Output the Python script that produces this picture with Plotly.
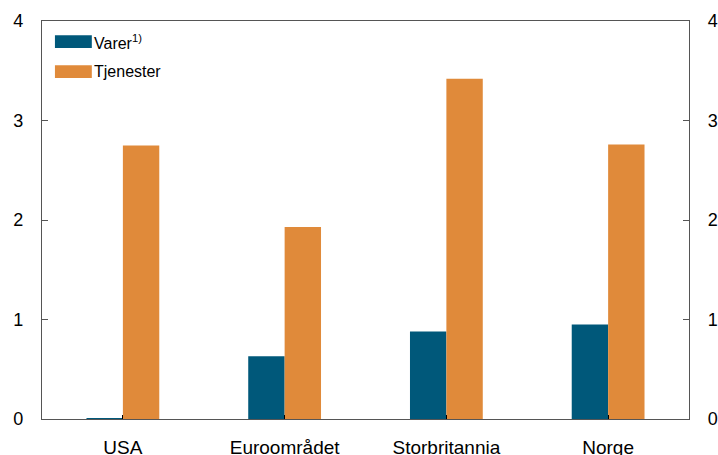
import plotly.graph_objects as go

categories = ["USA", "Euroområdet", "Storbritannia", "Norge"]
varer = [0.01, 0.63, 0.88, 0.95]
tjenester = [2.75, 1.93, 3.42, 2.76]
y_ticks = [0, 1, 2, 3, 4]

C_VARER = "#00587A"
C_TJEN = "#E08A3A"
AXIS = "#555555"
FONT = "Liberation Sans, Arial, sans-serif"

fig = go.Figure()
fig.add_trace(go.Bar(x=categories, y=varer, name="Varer", marker=dict(color=C_VARER, line=dict(width=0)), showlegend=False))
fig.add_trace(go.Bar(x=categories, y=tjenester, name="Tjenester", marker=dict(color=C_TJEN, line=dict(width=0)), showlegend=False))

fig.update_layout(
    width=718, height=455,
    margin=dict(l=42, r=29, t=21, b=36, autoexpand=False),
    paper_bgcolor="white", plot_bgcolor="white",
    barmode="group", bargap=0.55, bargroupgap=0,
    font=dict(family=FONT, size=18, color="black"),
    xaxis=dict(
        showline=True, linecolor=AXIS, linewidth=1.2, mirror=True,
        ticks="inside", ticklen=4, tickcolor="black", tickwidth=1,
        showgrid=False, ticklabelstandoff=11, automargin=False,
        tickfont=dict(size=19),
    ),
    yaxis=dict(
        range=[0, 4], tickvals=y_ticks, showline=True, linecolor=AXIS, linewidth=1.2,
        ticks="inside", ticklen=6, tickcolor=AXIS, showgrid=False, zeroline=False,
        ticklabelstandoff=14, tickfont=dict(size=18), automargin=False,
    ),
    yaxis2=dict(
        range=[0, 4], tickvals=y_ticks, overlaying="y", side="right", matches="y",
        showline=True, linecolor=AXIS, linewidth=1.2,
        ticks="inside", ticklen=6, tickcolor=AXIS, showgrid=False, zeroline=False,
        ticklabelstandoff=14, tickfont=dict(size=18), automargin=False,
    ),
    showlegend=False,
)

fig.add_trace(go.Scatter(x=categories, y=[None]*len(categories), yaxis="y2", showlegend=False, hoverinfo="skip"))

legend_items = [("Varer<sup>1)</sup>", C_VARER), ("Tjenester", C_TJEN)]
y_centers = [0.948, 0.873]
for (label, col), yc in zip(legend_items, y_centers):
    fig.add_shape(type="rect", xref="paper", yref="paper",
                  x0=0.020, x1=0.077, y0=yc - 0.016, y1=yc + 0.016,
                  fillcolor=col, line=dict(width=0))
    fig.add_annotation(xref="paper", yref="paper", x=0.078, y=yc, text=label,
                       showarrow=False, xanchor="left", yanchor="middle",
                       font=dict(family=FONT, size=16, color="black"))

fig.write_html("out.html", config={"displayModeBar": False},
               post_script="document.body.style.margin='0';document.body.style.overflow='hidden';")
